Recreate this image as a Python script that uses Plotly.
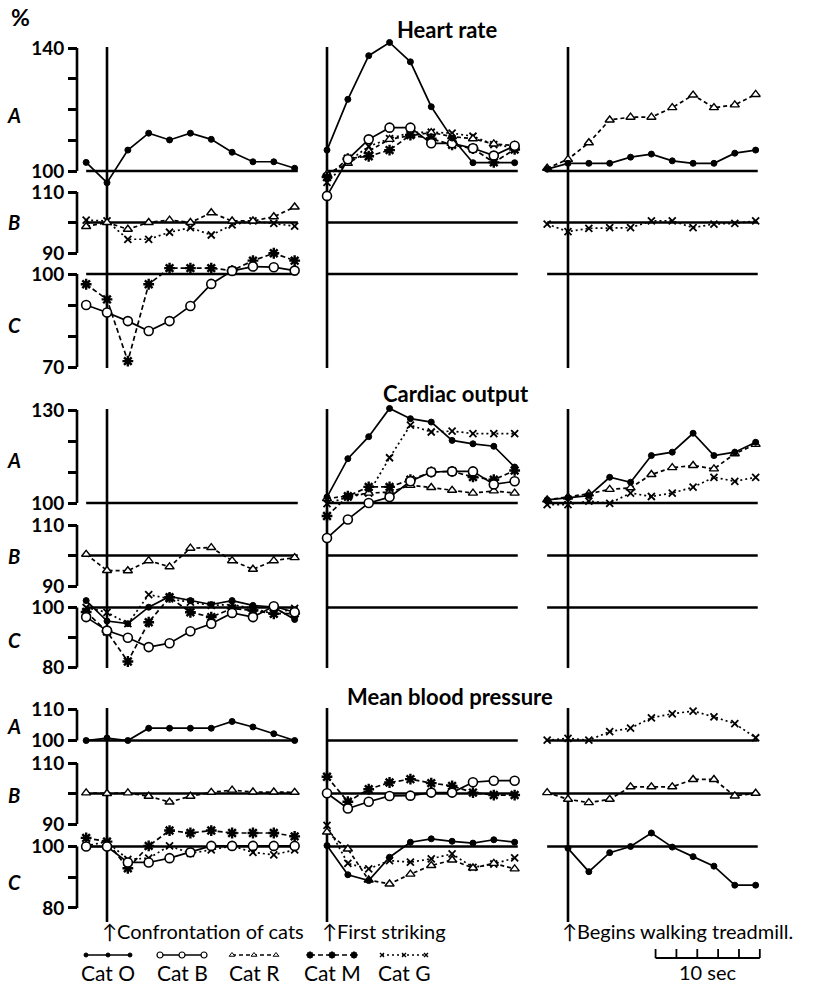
import plotly.graph_objects as go

W, H = 818, 985

# ---- time steps (one step = 2 s; 0 = event) ----
steps_confront = list(range(-1, 10))
steps_strike = list(range(0, 10))
steps_walk = list(range(-1, 10))
steps_walk0 = list(range(0, 10))

# ---- Heart rate (%) ----
hr_A_confront_O = [102.8, 96.2, 106.8, 112.3, 110.1, 112.3, 110.3, 106.1, 103.0, 103.0, 100.9]
hr_B_confront_R = [98.7, 100.0, 97.8, 100.0, 100.8, 100.0, 103.2, 100.5, 100.5, 101.9, 105.1]
hr_B_confront_G = [100.8, 100.5, 94.5, 94.5, 96.8, 98.3, 95.9, 99.2, 100.5, 99.7, 98.8]
hr_C_confront_M = [96.7, 91.8, 71.9, 96.7, 101.9, 101.9, 101.9, 101.1, 104.3, 106.7, 104.3]
hr_C_confront_B = [90.0, 87.6, 84.8, 81.6, 84.8, 89.7, 96.8, 101.0, 102.4, 102.2, 101.1]
hr_A_strike_O = [106.8, 123.3, 137.5, 141.8, 135.5, 120.9, 110.7, 102.7, 102.7, 102.7]
hr_A_strike_B = [91.9, 103.8, 110.3, 114.1, 114.1, 109.0, 109.0, 107.4, 105.0, 108.2]
hr_A_strike_R = [99.0, 102.5, 106.5, 110.3, 111.5, 112.5, 111.2, 110.5, 108.8, 108.3]
hr_A_strike_M = [98.0, 104.0, 104.8, 106.8, 111.7, 110.5, 108.5, 107.3, 102.8, 107.0]
hr_A_strike_G = [96.3, 103.0, 108.0, 110.5, 112.5, 112.6, 112.3, 111.3, 108.6, 107.6]
hr_A_walk_R = [100.9, 103.8, 109.2, 116.6, 117.5, 117.5, 120.6, 124.7, 120.6, 121.5, 124.9]
hr_A_walk_O = [100.6, 102.5, 102.5, 102.5, 104.5, 105.5, 103.3, 102.5, 102.5, 105.8, 106.8]
hr_B_walk_G = [99.5, 97.0, 98.1, 98.3, 98.3, 100.5, 100.5, 98.3, 99.5, 99.7, 100.5]

# ---- Cardiac output (%) ----
co_B_confront_R = [100.4, 95.1, 95.0, 98.3, 96.3, 102.4, 102.6, 98.3, 95.5, 98.3, 99.3]
co_C_confront_O = [102.3, 95.5, 94.6, 100.1, 103.7, 102.3, 101.0, 102.3, 100.7, 100.1, 96.0]
co_C_confront_B = [96.8, 92.3, 89.9, 86.8, 88.1, 92.1, 94.6, 98.2, 96.8, 100.4, 98.4]
co_C_confront_M = [98.5, 92.0, 82.0, 95.1, 103.4, 98.4, 96.8, 99.7, 99.0, 97.9, 98.0]
co_C_confront_G = [100.0, 98.4, 94.6, 104.3, 102.9, 101.8, 100.7, 101.0, 99.6, 97.9, 99.7]
co_A_strike_O = [101.9, 114.3, 121.4, 130.5, 127.2, 126.1, 120.2, 119.1, 118.3, 111.6]
co_A_strike_G = [99.8, 101.9, 103.2, 114.6, 125.1, 122.9, 123.2, 122.4, 122.4, 122.4]
co_A_strike_B = [88.7, 94.7, 100.0, 101.9, 107.0, 110.0, 110.2, 110.2, 106.0, 107.0]
co_A_strike_R = [101.4, 102.2, 103.2, 103.5, 105.7, 105.0, 104.1, 103.2, 103.9, 103.2]
co_A_strike_M = [95.8, 102.2, 105.2, 105.2, 107.5, 110.0, 110.2, 108.4, 107.5, 110.5]
co_A_walk_O = [101.0, 101.7, 102.4, 108.3, 106.7, 115.3, 116.4, 122.5, 115.3, 116.4, 119.6]
co_A_walk_R = [101.0, 101.9, 103.0, 104.4, 104.9, 109.2, 111.4, 112.1, 111.0, 115.9, 118.9]
co_A_walk_G = [99.5, 99.5, 100.6, 99.9, 103.2, 102.1, 103.2, 105.1, 108.3, 107.0, 108.3]

# ---- Mean blood pressure (%) ----
bp_A_confront_O = [100.0, 100.8, 100.0, 104.0, 104.0, 104.0, 104.0, 106.2, 104.4, 102.2, 100.0]
bp_B_confront_R = [100.2, 100.0, 100.2, 99.1, 97.2, 99.1, 100.4, 101.1, 100.5, 100.5, 100.4]
bp_C_confront_M = [102.8, 101.6, 92.9, 100.2, 105.2, 104.4, 105.2, 104.4, 104.4, 104.4, 103.3]
bp_C_confront_B = [100.0, 100.0, 94.8, 94.8, 96.2, 98.1, 100.2, 100.2, 100.2, 100.2, 100.2]
bp_C_confront_G = [100.2, 101.6, 95.8, 96.2, 100.2, 97.8, 98.9, 100.2, 98.1, 97.3, 98.9]
bp_B_strike_M = [105.5, 97.3, 101.4, 103.6, 104.7, 103.4, 102.5, 100.3, 99.5, 99.5]
bp_B_strike_B = [100.1, 95.1, 97.3, 99.2, 99.3, 100.3, 100.3, 103.7, 104.2, 104.2]
bp_C_strike_O = [100.3, 90.8, 88.9, 96.5, 101.4, 102.5, 101.7, 101.1, 102.2, 101.4]
bp_C_strike_R = [104.7, 99.2, 89.1, 87.8, 91.0, 93.8, 95.6, 93.0, 94.5, 92.7]
bp_C_strike_G = [106.9, 94.5, 92.7, 95.4, 94.9, 96.0, 97.6, 93.2, 94.3, 96.3]
bp_A_walk_G = [100.1, 100.7, 100.1, 102.9, 104.0, 107.4, 108.7, 109.6, 107.7, 105.5, 100.9]
bp_B_walk_R = [100.3, 98.1, 97.0, 98.1, 102.2, 102.2, 102.2, 104.6, 104.6, 99.2, 100.1]
bp_C_walk_O = [99.4, 91.8, 98.0, 100.0, 104.4, 99.8, 96.7, 93.6, 87.4, 87.4]

cat_names = ["Cat O", "Cat B", "Cat R", "Cat M", "Cat G"]
section_titles = ["Heart rate", "Cardiac output", "Mean blood pressure"]
event_labels = ["\u2191Confrontation of cats", "\u2191First striking", "\u2191Begins walking treadmill."]
row_letters = ["A", "B", "C"]

# ---------------- layout / styling ----------------
FONT = "Lato"
SP = 20.85  # px per step
cols = {1: dict(ax="x", x0=107, lo=-1.6, hi=9.6, base=(-1, 9.15)),
        2: dict(ax="x2", x0=327, lo=-0.7, hi=9.6, base=(0, 9.15)),
        3: dict(ax="x3", x0=568, lo=-1.6, hi=9.6, base=(-1, 9.1))}

rows = {
    "HR_A": dict(p100=171, s=3.075, lo=88, hi=146, ticks=[100, 110, 120, 130, 140], labels=["100", "", "", "", "140"], ly=115),
    "HR_B": dict(p100=222.5, s=3.05, lo=86, hi=114, ticks=[90, 100, 110], labels=["90", "", "110"], ly=222),
    "HR_C": dict(p100=274, s=3.1, lo=66, hi=110, ticks=[70, 80, 90, 100], labels=["70", "", "", "100"], ly=325),
    "CO_A": dict(p100=503, s=3.1, lo=85, hi=134, ticks=[100, 110, 120, 130], labels=["100", "", "", "130"], ly=460),
    "CO_B": dict(p100=555.5, s=3.05, lo=86, hi=114, ticks=[90, 100, 110], labels=["90", "", "110"], ly=556),
    "CO_C": dict(p100=607.5, s=3.0, lo=76, hi=110, ticks=[80, 90, 100], labels=["80", "", "100"], ly=640),
    "BP_A": dict(p100=740.5, s=3.07, lo=96, hi=114, ticks=[100, 110], labels=["100", "110"], ly=726),
    "BP_B": dict(p100=793.5, s=3.05, lo=86, hi=114, ticks=[90, 100, 110], labels=["90", "", "110"], ly=795),
    "BP_C": dict(p100=846.5, s=3.07, lo=76, hi=110, ticks=[80, 90, 100], labels=["80", "", "100"], ly=882),
}
row_keys = list(rows.keys())
yname = {k: ("y" if i == 0 else f"y{i+1}") for i, k in enumerate(row_keys)}

styles = {
    "O": dict(dash="solid", symbol="circle", size=6, color="black", lw=1.0),
    "B": dict(dash="solid", symbol="circle", size=9, color="white", lw=1.6),
    "R": dict(dash="4px,3px", symbol="triangle-up", size=8, color="white", lw=1.4),
    "M": dict(dash="5px,3px", symbol="asterisk-open", size=9, color="black", lw=2.4),
    "G": dict(dash="2px,3px", symbol="x-thin-open", size=7, color="black", lw=1.8),
}

series = [
    (hr_A_confront_O, steps_confront, "O", "HR_A", 1),
    (hr_B_confront_G, steps_confront, "G", "HR_B", 1),
    (hr_B_confront_R, steps_confront, "R", "HR_B", 1),
    (hr_C_confront_M, steps_confront, "M", "HR_C", 1),
    (hr_C_confront_B, steps_confront, "B", "HR_C", 1),
    (hr_A_strike_G, steps_strike, "G", "HR_A", 2),
    (hr_A_strike_R, steps_strike, "R", "HR_A", 2),
    (hr_A_strike_M, steps_strike, "M", "HR_A", 2),
    (hr_A_strike_B, steps_strike, "B", "HR_A", 2),
    (hr_A_strike_O, steps_strike, "O", "HR_A", 2),
    (hr_A_walk_R, steps_walk, "R", "HR_A", 3),
    (hr_A_walk_O, steps_walk, "O", "HR_A", 3),
    (hr_B_walk_G, steps_walk, "G", "HR_B", 3),
    (co_B_confront_R, steps_confront, "R", "CO_B", 1),
    (co_C_confront_G, steps_confront, "G", "CO_C", 1),
    (co_C_confront_M, steps_confront, "M", "CO_C", 1),
    (co_C_confront_O, steps_confront, "O", "CO_C", 1),
    (co_C_confront_B, steps_confront, "B", "CO_C", 1),
    (co_A_strike_G, steps_strike, "G", "CO_A", 2),
    (co_A_strike_R, steps_strike, "R", "CO_A", 2),
    (co_A_strike_M, steps_strike, "M", "CO_A", 2),
    (co_A_strike_B, steps_strike, "B", "CO_A", 2),
    (co_A_strike_O, steps_strike, "O", "CO_A", 2),
    (co_A_walk_G, steps_walk, "G", "CO_A", 3),
    (co_A_walk_R, steps_walk, "R", "CO_A", 3),
    (co_A_walk_O, steps_walk, "O", "CO_A", 3),
    (bp_A_confront_O, steps_confront, "O", "BP_A", 1),
    (bp_B_confront_R, steps_confront, "R", "BP_B", 1),
    (bp_C_confront_G, steps_confront, "G", "BP_C", 1),
    (bp_C_confront_M, steps_confront, "M", "BP_C", 1),
    (bp_C_confront_B, steps_confront, "B", "BP_C", 1),
    (bp_B_strike_M, steps_strike, "M", "BP_B", 2),
    (bp_B_strike_B, steps_strike, "B", "BP_B", 2),
    (bp_C_strike_G, steps_strike, "G", "BP_C", 2),
    (bp_C_strike_R, steps_strike, "R", "BP_C", 2),
    (bp_C_strike_O, steps_strike, "O", "BP_C", 2),
    (bp_A_walk_G, steps_walk, "G", "BP_A", 3),
    (bp_B_walk_R, steps_walk, "R", "BP_B", 3),
    (bp_C_walk_O, steps_walk0, "O", "BP_C", 3),
]

fig = go.Figure()
for vals, steps, cat, row, col in series:
    st = styles[cat]
    fig.add_trace(go.Scatter(
        x=steps, y=vals, xaxis=cols[col]["ax"], yaxis=yname[row],
        mode="lines+markers", cliponaxis=False,
        line=dict(color="black", width=1.7, dash=st["dash"]),
        marker=dict(symbol=st["symbol"], size=st["size"], color=st["color"],
                    line=dict(color="black", width=st["lw"])),
        hoverinfo="skip", showlegend=False))

layout = dict(width=W, height=H, margin=dict(l=0, r=0, t=0, b=0),
              paper_bgcolor="white", plot_bgcolor="rgba(0,0,0,0)", showlegend=False)

for c, cfg in cols.items():
    key = "xaxis" if c == 1 else f"xaxis{c}"
    left = cfg["x0"] + cfg["lo"] * SP
    right = cfg["x0"] + cfg["hi"] * SP
    layout[key] = dict(domain=[left / W, right / W], range=[cfg["lo"], cfg["hi"]],
                       visible=False, anchor="free", position=0, fixedrange=True)

for i, k in enumerate(row_keys):
    r = rows[k]
    key = "yaxis" if i == 0 else f"yaxis{i+1}"
    bottom = r["p100"] + (100 - r["lo"]) * r["s"]
    top = r["p100"] - (r["hi"] - 100) * r["s"]
    layout[key] = dict(domain=[1 - bottom / H, 1 - top / H], range=[r["lo"], r["hi"]],
                       anchor="free", position=77 / W, showline=False, showgrid=False,
                       zeroline=False, ticks="outside", ticklen=9, tickwidth=2.6,
                       tickcolor="black", tickvals=r["ticks"], ticktext=r["labels"],
                       tickfont=dict(family=FONT, size=19, color="black", weight="bold"),
                       automargin=False, fixedrange=True)

# overlay axes in pixel units for legend samples / scale bar
layout["xaxis4"] = dict(domain=[0, 1], range=[0, W], visible=False, anchor="y10", fixedrange=True)
layout["yaxis10"] = dict(domain=[0, 1], range=[H, 0], visible=False, anchor="x4", fixedrange=True)
fig.update_layout(**layout)

shapes = []
# y-axis spines
for k in row_keys:
    r = rows[k]
    shapes.append(dict(type="line", xref="paper", yref=yname[k], x0=77 / W, x1=77 / W,
                       y0=min(r["ticks"]), y1=max(r["ticks"]), line=dict(color="black", width=2.6)))
# baselines at 100 %
for k in row_keys:
    for c, cfg in cols.items():
        shapes.append(dict(type="line", xref=cfg["ax"], yref=yname[k], x0=cfg["base"][0], x1=cfg["base"][1],
                           y0=100, y1=100, line=dict(color="black", width=2.6), layer="below"))
# event lines
sections_px = [(47, 368), (409, 668), (708, 922)]
for c, cfg in cols.items():
    for (t, b) in sections_px:
        shapes.append(dict(type="line", xref=cfg["ax"], yref="paper", x0=0, x1=0,
                           y0=1 - t / H, y1=1 - b / H, line=dict(color="black", width=2.6), layer="below"))
# scale bar: 5 steps = 10 s
sb0 = 4.2
shapes.append(dict(type="line", xref="x3", yref="y10", x0=sb0, x1=sb0 + 5, y0=958, y1=958,
                   line=dict(color="black", width=2)))
for k in range(6):
    shapes.append(dict(type="line", xref="x3", yref="y10", x0=sb0 + k, x1=sb0 + k, y0=949, y1=958,
                       line=dict(color="black", width=1.8)))
fig.update_layout(shapes=shapes)

# legend samples
leg_cx = [108, 182, 254, 332, 404]
for cx, cat, name in zip(leg_cx, "OBRMG", cat_names):
    st = styles[cat]
    fig.add_trace(go.Scatter(
        x=[cx - 22, cx, cx + 22], y=[955, 955, 955], xaxis="x4", yaxis="y10",
        mode="lines+markers", line=dict(color="black", width=1.3, dash=st["dash"]),
        marker=dict(symbol=st["symbol"], size=max(st["size"] - 3, 4), color=st["color"],
                    line=dict(color="black", width=max(st["lw"] - 0.4, 1))),
        hoverinfo="skip", showlegend=False))

ann = []
def A(text, x, y, size, xanchor="center", color="black"):
    ann.append(dict(text=text, x=x / W, y=1 - y / H, xref="paper", yref="paper", showarrow=False,
                    xanchor=xanchor, yanchor="middle", font=dict(family=FONT, size=size, color=color)))

A("<b>%</b>", 20, 17, 23)
for t, (x, y) in zip(section_titles, [(447, 29), (456, 393), (450, 696)]):
    A("<b>" + t + "</b>", x, y, 22)
for i, k in enumerate(row_keys):
    A("<b><i>" + row_letters[i % 3] + "</i></b>", 14, rows[k]["ly"], 20)
for t, x in zip(event_labels, [100, 320, 560]):
    A(t, x, 931, 20, xanchor="left")
for cx, name in zip(leg_cx, cat_names):
    A(name, cx, 972, 21)
A("10 sec", 708, 972, 20)
fig.update_layout(annotations=ann)

fig.write_html("out.html", config={"displayModeBar": False},
               post_script="document.body.style.margin='0px';document.body.style.overflow='hidden';")
